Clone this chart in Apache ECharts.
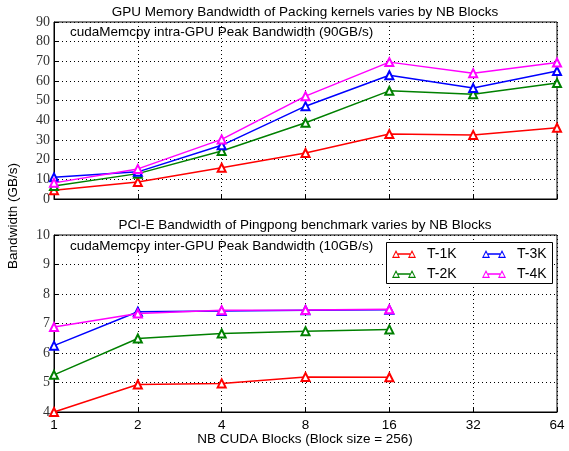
<!DOCTYPE html>
<html>
<head>
<meta charset="utf-8">
<script src="https://cdn.jsdelivr.net/npm/echarts@6/dist/echarts.min.js"></script>
<style>
  html, body { margin: 0; padding: 0; background: #fff; }
  #chart { width: 569px; height: 451px; }
</style>
</head>
<body>
<div id="chart"></div>
<script>
// NB CUDA blocks
const blocks = ['1', '2', '4', '8', '16', '32', '64'];
const seriesNames = ['T-1K', 'T-2K', 'T-3K', 'T-4K'];
const colors = ['#ff0000', '#008000', '#0000ff', '#ff00ff'];

// GPU memory bandwidth of packing kernels (GB/s)
const gpuT1K = [4.5, 8.6, 15.9, 23.4, 33.0, 32.6, 36.2];
const gpuT2K = [6.6, 12.9, 24.4, 38.8, 55.0, 53.3, 59.0];
const gpuT3K = [11.0, 13.8, 27.3, 47.2, 62.9, 56.4, 65.1];
const gpuT4K = [8.2, 15.3, 30.3, 52.3, 69.6, 64.0, 69.4];

// PCI-E bandwidth of pingpong benchmark (GB/s)
const pciT1K = [4.0, 4.93, 4.97, 5.19, 5.18, null, null];
const pciT2K = [5.26, 6.49, 6.66, 6.74, 6.80, null, null];
const pciT3K = [6.25, 7.40, 7.42, 7.45, 7.47, null, null];
const pciT4K = [6.88, 7.34, 7.45, 7.46, 7.48, null, null];

const gpuData = [gpuT1K, gpuT2K, gpuT3K, gpuT4K];
const pciData = [pciT1K, pciT2K, pciT3K, pciT4K];

const serifFont = '"Liberation Serif", "DejaVu Serif", serif';
const sansFont = '"Liberation Sans", Arial, sans-serif';

// legend icon: two hollow triangles joined by a line
const legendIcon = 'path://M4,1 L8,9 L0,9 Z M4,3.6 L1.6,7.8 L6.4,7.8 Z M6,4.3 L18,4.3 L18,5.7 L6,5.7 Z ' +
    'M20,1 L24,9 L16,9 Z M20,3.6 L17.6,7.8 L22.4,7.8 Z';

const chart = echarts.init(document.getElementById('chart'));

function xAxisFor(gridIndex, showLabels) {
    return {
        type: 'category',
        gridIndex: gridIndex,
        data: blocks,
        boundaryGap: false,
        axisLine: { show: true, lineStyle: { color: '#000', width: 1 } },
        axisTick: { show: true, inside: true, length: 4, lineStyle: { color: '#000' } },
        axisLabel: { show: showLabels, color: '#000', fontSize: 13.5, fontFamily: sansFont, margin: 6 },
        splitLine: { show: true, lineStyle: { color: '#000', type: [1, 3], width: 1 } }
    };
}

function yAxisFor(gridIndex, min, max, interval) {
    return {
        type: 'value',
        gridIndex: gridIndex,
        min: min,
        max: max,
        interval: interval,
        axisLine: { show: true, lineStyle: { color: '#000', width: 1 } },
        axisTick: { show: true, inside: true, length: 4, lineStyle: { color: '#000' } },
        axisLabel: { color: '#333', fontSize: 14, fontFamily: serifFont, margin: 4 },
        splitLine: { show: true, lineStyle: { color: '#000', type: [1, 3], width: 1 } }
    };
}

const series = [];
seriesNames.forEach((name, i) => {
    series.push({
        name: name,
        type: 'line',
        xAxisIndex: 0,
        yAxisIndex: 0,
        data: gpuData[i],
        color: colors[i],
        symbol: 'emptyTriangle',
        symbolSize: 8,
        lineStyle: { width: 1.5 },
        itemStyle: { borderWidth: 1.5 },
        z: 3 + i
    });
});
seriesNames.forEach((name, i) => {
    series.push({
        name: name,
        type: 'line',
        xAxisIndex: 1,
        yAxisIndex: 1,
        data: pciData[i],
        color: colors[i],
        symbol: 'emptyTriangle',
        symbolSize: 8,
        lineStyle: { width: 1.5 },
        itemStyle: { borderWidth: 1.5 },
        z: 3 + i
    });
});

const legendCommon = {
    orient: 'vertical',
    icon: legendIcon,
    itemWidth: 24,
    itemHeight: 9,
    itemGap: 6,
    padding: 0,
    selectedMode: false,
    textStyle: { color: '#000', fontSize: 14, fontFamily: sansFont, padding: [0, 0, 0, 6] }
};

const option = {
    animation: false,
    backgroundColor: '#fff',
    grid: [
        { left: 54, top: 22, width: 503, height: 177, show: true, borderColor: '#000', borderWidth: 1 },
        { left: 54, top: 235, width: 503, height: 177, show: true, borderColor: '#000', borderWidth: 1 }
    ],
    xAxis: [xAxisFor(0, false), xAxisFor(1, true)],
    yAxis: [yAxisFor(0, 0, 90, 10), yAxisFor(1, 4, 10, 1)],
    legend: [
        Object.assign({ data: ['T-1K', 'T-2K'], left: 392, top: 247 }, legendCommon),
        Object.assign({ data: ['T-3K', 'T-4K'], left: 482, top: 247 }, legendCommon)
    ],
    graphic: [
        { type: 'rect', left: 386, top: 242, z: 1,
          shape: { width: 166, height: 41 },
          style: { fill: '#fff', stroke: '#000', lineWidth: 1 } },
        { type: 'text', x: 305, y: 12, z: 10,
          style: { text: 'GPU Memory Bandwidth of Packing kernels varies by NB Blocks', fill: '#000',
                   font: '13.5px ' + sansFont, textAlign: 'center', textVerticalAlign: 'middle' } },
        { type: 'text', x: 70, y: 32, z: 10,
          style: { text: 'cudaMemcpy intra-GPU Peak Bandwidth (90GB/s)', fill: '#000',
                   font: '13.5px ' + sansFont, textAlign: 'left', textVerticalAlign: 'middle' } },
        { type: 'text', x: 305, y: 225, z: 10,
          style: { text: 'PCI-E Bandwidth of Pingpong benchmark varies by NB Blocks', fill: '#000',
                   font: '13.5px ' + sansFont, textAlign: 'center', textVerticalAlign: 'middle' } },
        { type: 'text', x: 70, y: 246, z: 10,
          style: { text: 'cudaMemcpy inter-GPU Peak Bandwidth (10GB/s)', fill: '#000',
                   font: '13.5px ' + sansFont, textAlign: 'left', textVerticalAlign: 'middle' } },
        { type: 'text', x: 305, y: 439, z: 10,
          style: { text: 'NB CUDA Blocks (Block size = 256)', fill: '#000',
                   font: '13.5px ' + sansFont, textAlign: 'center', textVerticalAlign: 'middle' } },
        { type: 'text', x: 13, y: 216, rotation: Math.PI / 2, z: 10,
          style: { text: 'Bandwidth (GB/s)', fill: '#000',
                   font: '13.5px ' + sansFont, textAlign: 'center', textVerticalAlign: 'middle' } }
    ],
    series: series
};

chart.setOption(option);
</script>
</body>
</html>
